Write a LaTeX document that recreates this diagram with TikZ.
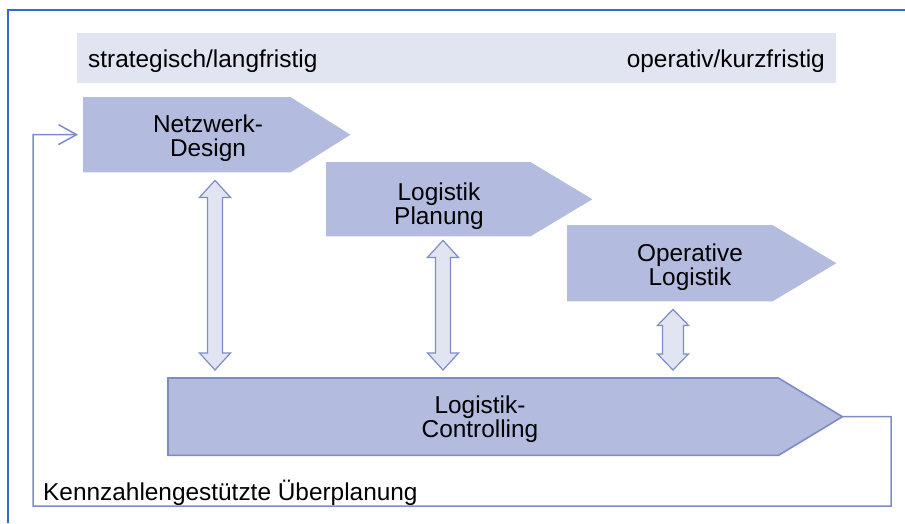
\documentclass[tikz,border=0pt]{standalone}
\usepackage{fontspec}
\setmainfont{Liberation Sans}
\usetikzlibrary{arrows.meta,calc}

\definecolor{stagefill}{HTML}{B3BBDF}
\definecolor{bandfill}{HTML}{E1E5F2}
\definecolor{linkline}{HTML}{7D8CC9}
\definecolor{frameline}{HTML}{2E6FC6}

\begin{document}
\begin{tikzpicture}[
  x=1pt,
  y=-1pt,
  body/.style={rectangle,inner sep=0pt,anchor=north west},
  pent/.style={fill=stagefill},
  pentline/.style={pent,draw=linkline,line width=1.6pt,line join=miter},
  txt/.style={font=\fontsize{24.4}{24}\selectfont,align=center,inner sep=0pt},
  band/.style={rectangle,fill=bandfill,inner sep=0pt,anchor=north west},
  fat/.style={fill=bandfill,draw=linkline,line width=1.2pt,line join=miter},
  loopline/.style={draw=linkline,line width=1.5pt,line join=miter,-{Straight Barb[length=18pt,width=20pt]}},
  frame/.style={draw=frameline,line width=1.2pt}
]
\useasboundingbox (0,0) rectangle (905,523);

% outer frame
\draw[frame] (8,523) -- (8,10) -- (905,10);

% time axis
\node[band,minimum width=759,minimum height=50] (band) at (77,33) {};
\node[txt,anchor=base west] (lang) at (88,67) {strategisch/langfristig};
\node[txt,anchor=base east] (kurz) at (825,67) {operativ/kurzfristig};

% stages
\node[body,minimum width=207,minimum height=75] (net) at (83,97) {};
\node[body,minimum width=204,minimum height=74] (plan) at (326,162) {};
\node[body,minimum width=205,minimum height=76] (oper) at (567,225) {};
\node[body,minimum width=610,minimum height=77] (ctrl) at (168,378) {};

\coordinate (net-tip) at ($(net.east)+(60,0)$);
\coordinate (plan-tip) at ($(plan.east)+(62,0)$);
\coordinate (oper-tip) at ($(oper.east)+(64,0)$);
\coordinate (ctrl-tip) at ($(ctrl.east)+(64,0)$);

\fill[pent] (net.north west) -- (net.north east) -- (net-tip) -- (net.south east) -- (net.south west) -- cycle;
\fill[pent] (plan.north west) -- (plan.north east) -- (plan-tip) -- (plan.south east) -- (plan.south west) -- cycle;
\fill[pent] (oper.north west) -- (oper.north east) -- (oper-tip) -- (oper.south east) -- (oper.south west) -- cycle;
\filldraw[pentline] (ctrl.north west) -- (ctrl.north east) -- (ctrl-tip) -- (ctrl.south east) -- (ctrl.south west) -- cycle;

\node[txt] (net-txt) at (208,138) {Netzwerk-\\Design};
\node[txt] (plan-txt) at (439,206) {Logistik\\Planung};
\node[txt] (oper-txt) at (690,267) {Operative\\Logistik};
\node[txt] (ctrl-txt) at (480,419.5) {Logistik-\\Controlling};

% exchange arrows
\coordinate (a1) at ($(net.south west)+(132,8)$);
\coordinate (b1) at ($(ctrl.north west)+(47,-8)$);
\coordinate (a2) at ($(plan.south west)+(117,4)$);
\coordinate (b2) at ($(ctrl.north west)+(275,-8)$);
\coordinate (a3) at ($(oper.south west)+(106,8)$);
\coordinate (b3) at ($(ctrl.north west)+(505,-8)$);

\draw[fat] (a1) -- ++(15.5,17) -- ++(-8,0) -- ($(b1)+(7.5,-17)$) -- ++(8,0) -- (b1) -- ++(-15.5,-17) -- ++(8,0) -- ($(a1)+(-7.5,17)$) -- ++(-8,0) -- cycle;
\draw[fat] (a2) -- ++(15.5,17) -- ++(-8,0) -- ($(b2)+(7.5,-17)$) -- ++(8,0) -- (b2) -- ++(-15.5,-17) -- ++(8,0) -- ($(a2)+(-7.5,17)$) -- ++(-8,0) -- cycle;
\draw[fat] (a3) -- ++(15.5,16) -- ++(-5,0) -- ($(b3)+(10.5,-16)$) -- ++(5,0) -- (b3) -- ++(-15.5,-16) -- ++(5,0) -- ($(a3)+(-10.5,16)$) -- ++(-5,0) -- cycle;

% feedback loop
\draw[loopline,shorten >=5pt] (ctrl-tip) -| (891,506) -| (33,134.5) -- (net.west);
\node[txt,anchor=base west] (kzl) at (43,500) {Kennzahlengestützte Überplanung};
\end{tikzpicture}
\end{document}
